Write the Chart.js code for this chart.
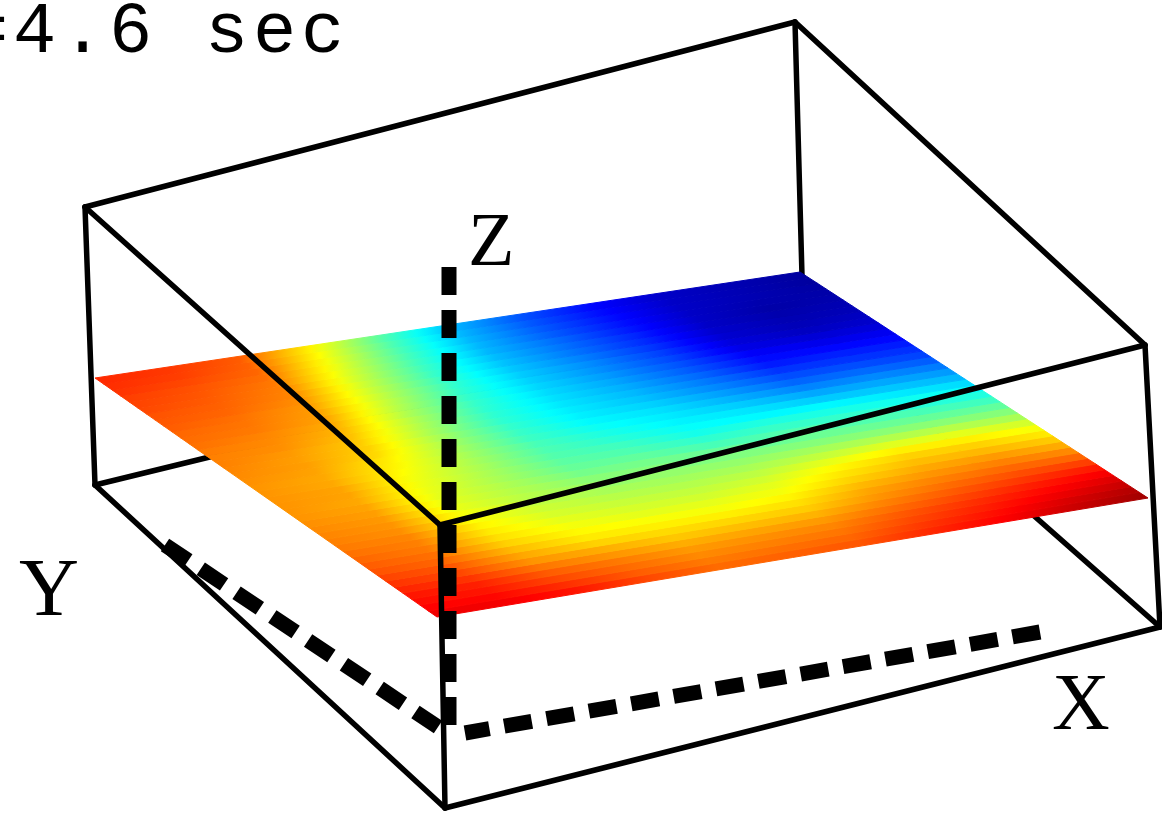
<!DOCTYPE html>
<html>
<head>
<meta charset="utf-8">
<title>t=4.6 sec</title>
<script src="https://cdn.jsdelivr.net/npm/chart.js@4/dist/chart.umd.min.js"></script>
<style>
    html, body { margin: 0; padding: 0; background: #fff; overflow: hidden; }
    canvas { display: block; }
</style>
</head>
<body>
<canvas id="surfaceChart" width="1162" height="813"></canvas>
<script>
// Surface values, colour scale 0..1
// one row per Y position (front edge first), one column per X position
const xPositions = [0, 0.1, 0.2, 0.3, 0.4, 0.5, 0.6, 0.7, 0.8, 0.9, 1];
const yPositions = [
    0, 0.025, 0.05, 0.075, 0.1, 0.125, 0.15, 0.175, 0.2, 0.225, 0.25, 0.275, 0.3, 0.325,
    0.35, 0.375, 0.4, 0.425, 0.45, 0.475, 0.5, 0.525, 0.55, 0.575, 0.6, 0.625, 0.65,
    0.675, 0.7, 0.725, 0.75, 0.775, 0.8, 0.825, 0.85, 0.875, 0.9, 0.925, 0.95, 0.975, 1
];
const surfaceValues = [
    [.90, .89, .87, .81, .78, .78, .80, .84, .88, .93, .97],
    [.88, .88, .84, .80, .76, .78, .78, .83, .87, .92, .96],
    [.87, .86, .82, .77, .75, .75, .77, .81, .85, .90, .94],
    [.86, .85, .79, .77, .73, .75, .75, .80, .84, .88, .92],
    [.85, .84, .78, .74, .72, .72, .74, .78, .82, .86, .90],
    [.83, .81, .74, .72, .69, .71, .71, .76, .80, .84, .87],
    [.82, .80, .72, .69, .67, .67, .69, .74, .78, .81, .84],
    [.80, .78, .70, .65, .65, .66, .66, .72, .76, .79, .79],
    [.79, .77, .68, .64, .63, .62, .65, .71, .74, .76, .76],
    [.78, .76, .66, .62, .61, .61, .62, .68, .72, .74, .72],
    [.77, .75, .65, .61, .59, .59, .61, .66, .70, .71, .69],
    [.76, .75, .64, .59, .58, .57, .59, .64, .68, .68, .66],
    [.75, .74, .63, .58, .56, .56, .57, .62, .66, .66, .63],
    [.75, .73, .62, .57, .55, .54, .55, .58, .62, .62, .60],
    [.74, .73, .61, .56, .53, .53, .53, .55, .57, .58, .56],
    [.74, .72, .60, .55, .52, .51, .51, .52, .53, .53, .52],
    [.73, .72, .60, .55, .50, .50, .49, .49, .49, .49, .49],
    [.73, .71, .60, .54, .48, .48, .46, .47, .47, .46, .45],
    [.73, .71, .61, .54, .47, .46, .43, .44, .44, .43, .42],
    [.73, .72, .61, .54, .46, .44, .41, .42, .41, .40, .39],
    [.73, .71, .62, .54, .45, .43, .38, .39, .39, .38, .36],
    [.73, .71, .63, .54, .45, .40, .38, .35, .35, .33, .32],
    [.73, .71, .64, .54, .44, .40, .35, .35, .30, .31, .29],
    [.74, .72, .65, .54, .43, .37, .36, .30, .28, .27, .26],
    [.74, .72, .67, .54, .43, .37, .33, .30, .23, .25, .23],
    [.75, .72, .67, .54, .42, .35, .33, .26, .22, .21, .20],
    [.75, .73, .68, .54, .42, .36, .30, .26, .18, .19, .18],
    [.75, .74, .69, .55, .42, .34, .31, .23, .17, .16, .16],
    [.76, .74, .70, .55, .42, .35, .28, .23, .13, .15, .14],
    [.77, .75, .71, .55, .43, .33, .29, .20, .14, .11, .12],
    [.77, .76, .72, .56, .42, .34, .26, .21, .10, .10, .10],
    [.78, .76, .72, .57, .43, .32, .27, .18, .10, .07, .08],
    [.79, .77, .73, .57, .43, .33, .25, .19, .08, .06, .07],
    [.79, .78, .74, .58, .43, .31, .25, .16, .08, .05, .06],
    [.80, .78, .75, .58, .43, .32, .23, .17, .07, .05, .05],
    [.81, .79, .75, .59, .44, .30, .24, .15, .07, .04, .05],
    [.81, .79, .76, .60, .44, .31, .22, .15, .07, .04, .04],
    [.82, .80, .77, .61, .45, .30, .22, .14, .07, .05, .04],
    [.83, .81, .78, .62, .45, .31, .21, .14, .07, .05, .03],
    [.83, .82, .78, .63, .46, .30, .21, .13, .07, .05, .03],
    [.84, .82, .79, .64, .46, .31, .20, .13, .07, .05, .03]
];

// Projected outline of the surface: front, right, back, left corner
const surfaceCorners = [[437, 617], [1148, 498], [800, 272], [95, 378]];

// Box edges: the ones behind the surface, then the ones in front of it
const backEdges = [
    [[95, 485], [803, 312]],
    [[1160, 627], [803, 312]],
    [[795, 22], [803, 312]]
];
const frontEdges = [
    [[85, 207], [795, 22]],
    [[795, 22], [1145, 345]],
    [[1145, 345], [440, 525]],
    [[440, 525], [85, 207]],
    [[85, 207], [95, 485]],
    [[1145, 345], [1160, 627]],
    [[440, 525], [445, 808]],
    [[95, 485], [445, 808]],
    [[445, 808], [1160, 627]]
];

// Dashed axes
const axisLines = [
    [[449, 267], [449, 725]],
    [[1040, 632], [465, 733]],
    [[165, 545], [438, 727]]
];

const textLabels = [
    { text: '=4.6 sec', x: -35, y: 52, size: 72, spacing: 4.8, font: 'Liberation Mono' },
    { text: 'Z', x: 468, y: 265, size: 76, spacing: 0, font: 'Liberation Serif' },
    { text: 'Y', x: 19, y: 615, size: 83, spacing: 0, font: 'Liberation Serif' },
    { text: 'X', x: 1052, y: 729, size: 80, spacing: 0, font: 'Liberation Serif' }
];

// Jet colour map
function jet(v) {
    const c = function(d) {
        return Math.round(255 * Math.max(0, Math.min(1, 1.5 - Math.abs(4 * v - d))));
    };
    return 'rgb(' + c(3) + ',' + c(2) + ',' + c(1) + ')';
}

function toXY(p) {
    return { x: p[0], y: p[1] };
}

// Position on the projected surface
function surfacePoint(u, v) {
    const [d, c, b, a] = surfaceCorners;
    return {
        x: d[0] * (1 - u) * (1 - v) + c[0] * u * (1 - v) + b[0] * u * v + a[0] * (1 - u) * v,
        y: d[1] * (1 - u) * (1 - v) + c[1] * u * (1 - v) + b[1] * u * v + a[1] * (1 - u) * v
    };
}

// Gradient along one strip of the surface
function stripGradient(context, row) {
    const chart = context.chart;
    // options also get resolved once before the first layout
    if (!chart.chartArea) {
        return 'rgba(0,0,0,0)';
    }
    const start = surfacePoint(0, (yPositions[row] + yPositions[row + 1]) / 2);
    const end = surfacePoint(1, (yPositions[row] + yPositions[row + 1]) / 2);
    const gradient = chart.ctx.createLinearGradient(
        chart.scales.x.getPixelForValue(start.x), chart.scales.y.getPixelForValue(start.y),
        chart.scales.x.getPixelForValue(end.x), chart.scales.y.getPixelForValue(end.y)
    );
    const cellValue = function(col) {
        return (surfaceValues[row][col] + surfaceValues[row + 1][col]) / 2;
    };
    // extra colour stops so the blend follows the colour map, not straight RGB
    xPositions.forEach(function(pos, col) {
        if (col === xPositions.length - 1) {
            gradient.addColorStop(pos, jet(cellValue(col)));
            return;
        }
        for (let s = 0; s < 6; s++) {
            const t = s / 6;
            gradient.addColorStop(
                pos + (xPositions[col + 1] - pos) * t,
                jet(cellValue(col) + (cellValue(col + 1) - cellValue(col)) * t)
            );
        }
    });
    return gradient;
}

function lineDataset(points, width, dash) {
    return {
        data: points.map(toXY),
        showLine: true,
        borderColor: '#000',
        borderWidth: width,
        borderDash: dash || [],
        borderCapStyle: dash ? 'butt' : 'round',
        pointRadius: 0,
        fill: false
    };
}

// index 0 is drawn on top, so the list runs from front to back
const datasets = [];
axisLines.forEach(function(line) {
    datasets.push(lineDataset(line, 15, [28, 15]));
});
frontEdges.forEach(function(line) {
    datasets.push(lineDataset(line, 5.5));
});
for (let row = yPositions.length - 2; row >= 0; row--) {
    const v0 = yPositions[row];
    const v1 = yPositions[row + 1];
    datasets.push({
        data: [surfacePoint(0, v0), surfacePoint(1, v0), surfacePoint(1, v1), surfacePoint(0, v1), surfacePoint(0, v0)],
        showLine: true,
        fill: 'shape',
        tension: 0,
        pointRadius: 0,
        borderWidth: 1,
        borderColor: function(context) { return stripGradient(context, row); },
        backgroundColor: function(context) { return stripGradient(context, row); }
    });
}
backEdges.forEach(function(line) {
    datasets.push(lineDataset(line, 5.5));
});

// Text on top of everything
const labelPlugin = {
    id: 'plotLabels',
    afterDraw: function(chart) {
        const ctx = chart.ctx;
        ctx.save();
        ctx.fillStyle = '#000';
        ctx.textBaseline = 'alphabetic';
        textLabels.forEach(function(label) {
            ctx.font = label.size + 'px "' + label.font + '"';
            ctx.letterSpacing = label.spacing + 'px';
            ctx.fillText(label.text, chart.scales.x.getPixelForValue(label.x), chart.scales.y.getPixelForValue(label.y));
        });
        ctx.restore();
    }
};

new Chart(document.getElementById('surfaceChart'), {
    type: 'scatter',
    data: { datasets: datasets },
    plugins: [labelPlugin],
    options: {
        responsive: false,
        animation: false,
        clip: false,
        layout: { padding: 0 },
        plugins: {
            legend: { display: false },
            tooltip: { enabled: false }
        },
        scales: {
            x: { type: 'linear', min: 0, max: 1162, display: false },
            y: { type: 'linear', min: 0, max: 813, reverse: true, display: false }
        }
    }
});
</script>
</body>
</html>
